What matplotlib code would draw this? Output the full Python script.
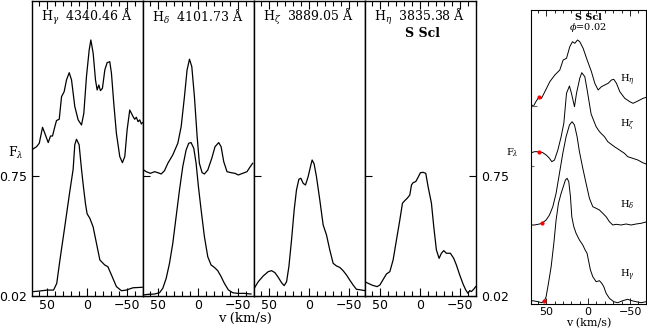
import matplotlib
matplotlib.use("Agg")
import matplotlib.pyplot as plt
from matplotlib.ticker import MultipleLocator

plt.rcParams['mathtext.fontset'] = 'dejavuserif'

# ---- main panels: velocity (km/s) and normalised flux ----
hg_top_v = [68.3, 63.3, 59.9, 55.8, 52.9, 48.7, 45.8, 43.3, 40.4, 38.3, 34.9, 32.0, 28.7, 25.8,
            22.4, 19.5, 15.4, 11.2, 7.0, 4.1, 0.8, -2.6, -4.7, -7.6, -10.5, -12.6, -14.7, -16.7,
            -19.2, -22.2, -25.1, -28.4, -30.5, -33.4, -36.7, -40.9, -44.2, -47.2, -50.1, -53.4,
            -55.5, -57.6, -59.6, -61.7, -63.8, -65.9, -68.0, -69.2]
hg_top_f = [0.912, 0.928, 0.949, 1.046, 1.009, 0.953, 0.993, 0.993, 1.050, 1.087, 1.095, 1.232,
            1.263, 1.334, 1.378, 1.334, 1.172, 1.091, 1.060, 1.131, 1.354, 1.516, 1.577, 1.496,
            1.334, 1.273, 1.303, 1.269, 1.283, 1.395, 1.439, 1.445, 1.374, 1.192, 1.009, 0.868,
            0.831, 0.868, 1.030, 1.151, 1.131, 1.111, 1.095, 1.107, 1.080, 1.091, 1.066, 1.074]

hg_v = [69, 60, 50, 42, 38, 34, 28, 22, 17.5, 15.4, 13.3, 10, 7, 4.5, 2, 0, -3.4, -7.5, -11.7,
        -16, -22, -26, -30.5, -36.7, -43, -49, -57.5, -69]
hg_f = [0.046, 0.05, 0.056, 0.056, 0.097, 0.24, 0.44, 0.645, 0.79, 0.94, 0.973, 0.94, 0.79,
        0.68, 0.58, 0.52, 0.493, 0.441, 0.341, 0.239, 0.209, 0.198, 0.148, 0.077, 0.052, 0.056,
        0.07, 0.073]

hd_top_v = [69.2, 65.0, 59.6, 54.6, 50.4, 46.2, 42.1, 37.9, 31.7, 25.4, 21.2, 17.1, 13.8, 10.8,
            7.9, 4.6, 1.2, -1.6, -5.0, -7.9, -12.1, -17.1, -21.2, -25.8, -28.8, -32.1, -36.2,
            -41.2, -46.2, -50.4, -55.8, -61.2, -65.4, -68.3]
hd_top_f = [0.790, 0.776, 0.766, 0.776, 0.770, 0.762, 0.782, 0.827, 0.878, 0.949, 1.050, 1.232,
            1.395, 1.460, 1.415, 1.232, 0.989, 0.827, 0.770, 0.762, 0.786, 0.857, 0.928, 0.953,
            0.928, 0.837, 0.776, 0.770, 0.766, 0.756, 0.766, 0.776, 0.807, 0.827]

hd_v = [69.2, 62.9, 54.6, 48.3, 44.2, 40.0, 35.8, 31.7, 27.5, 23.3, 19.2, 15.0, 11.7, 8.8, 5.4,
        2.5, -0.4, -3.8, -7.9, -12.1, -16.2, -20.4, -24.6, -28.8, -32.9, -37.9, -43.3, -49.6,
        -57.9, -66.2]
hd_f = [0.026, 0.030, 0.032, 0.040, 0.067, 0.127, 0.219, 0.340, 0.503, 0.665, 0.807, 0.908,
        0.949, 0.953, 0.918, 0.827, 0.685, 0.543, 0.381, 0.259, 0.209, 0.194, 0.174, 0.138,
        0.097, 0.057, 0.040, 0.036, 0.036, 0.032]

hz_v = [68.7, 63.7, 57.4, 51.2, 47.0, 42.8, 38.7, 34.5, 31.2, 28.2, 25.3, 22.0, 18.7, 15.8,
        12.8, 10.3, 7.4, 4.5, 1.2, -2.2, -3.8, -6.3, -9.2, -13.4, -17.6, -21.8, -25.9, -30.1,
        -34.2, -38.4, -42.6, -46.8, -50.9, -55.1, -59.2, -64.7, -69.7]
hz_f = [0.067, 0.107, 0.142, 0.168, 0.174, 0.162, 0.134, 0.101, 0.083, 0.107, 0.199, 0.361,
        0.543, 0.665, 0.730, 0.736, 0.705, 0.695, 0.746, 0.817, 0.847, 0.823, 0.746, 0.604,
        0.452, 0.391, 0.300, 0.219, 0.203, 0.194, 0.174, 0.148, 0.117, 0.087, 0.061, 0.057,
        0.053]

he_v = [69.2, 65.0, 59.6, 53.8, 50.4, 46.2, 42.1, 37.9, 33.8, 29.6, 25.4, 22.1, 19.2, 16.2,
        12.9, 10.8, 8.8, 5.4, 2.5, -0.4, -3.8, -7.1, -10.0, -14.2, -17.1, -20.4, -23.8, -26.7,
        -29.6, -32.9, -37.9, -42.1, -45.4, -49.6, -53.8, -57.1, -60.0, -62.1, -64.2, -67.1,
        -69.6]
he_f = [0.107, 0.097, 0.085, 0.077, 0.087, 0.121, 0.154, 0.168, 0.239, 0.361, 0.482, 0.584,
        0.600, 0.614, 0.634, 0.695, 0.709, 0.716, 0.742, 0.770, 0.772, 0.766, 0.685, 0.584,
        0.442, 0.300, 0.249, 0.280, 0.296, 0.280, 0.280, 0.249, 0.209, 0.148, 0.093, 0.057,
        0.036, 0.053, 0.047, 0.061, 0.077]

panel_titles = [r'H$_\gamma$  4340.46 Å', r'H$_\delta$  4101.73 Å',
                r'H$_\zeta$  3889.05 Å', r'H$_\eta$  3835.38 Å']
panel_curves = [[(hg_top_v, hg_top_f), (hg_v, hg_f)],
                [(hd_top_v, hd_top_f), (hd_v, hd_f)],
                [(hz_v, hz_f)],
                [(he_v, he_f)]]

# ---- right panel: stacked profiles at phase 0.02 ----
r_eta_v = [68.6, 65.4, 62.2, 58.3, 55.5, 51.5, 45.6, 39.6, 33.7, 29.7, 25.7, 21.8, 18.6, 15.8,
           12.6, 9.9, 5.9, 1.1, -4.0, -8.0, -12.0, -15.9, -19.9, -23.9, -27.8, -30.6, -33.8,
           -37.8, -43.7, -49.7, -53.6, -57.6, -61.6, -65.5, -69.5]
r_eta_f = [2.007, 1.973, 2.023, 2.073, 2.057, 2.123, 2.223, 2.29, 2.34, 2.44, 2.457, 2.573,
           2.623, 2.607, 2.64, 2.623, 2.557, 2.44, 2.323, 2.207, 2.14, 2.173, 2.19, 2.207, 2.24,
           2.247, 2.207, 2.123, 2.057, 2.023, 2.007, 2.023, 2.04, 2.057, 2.067]

r_zeta_v = [69.8, 63.8, 57.9, 53.9, 49.9, 46.0, 43.2, 40.0, 36.0, 32.1, 28.9, 25.7, 22.2, 19.8,
            16.2, 13.8, 9.9, 7.5, 3.9, 1.1, -3.6, -9.6, -13.6, -19.5, -23.5, -31.4, -37.4, -43.3,
            -47.3, -53.2, -59.2, -65.1, -69.1]
r_zeta_f = [1.507, 1.523, 1.523, 1.513, 1.49, 1.457, 1.423, 1.44, 1.54, 1.673, 1.807, 2.107,
            2.18, 2.107, 1.973, 2.107, 2.257, 2.313, 2.273, 2.14, 1.9, 1.773, 1.723, 1.673, 1.623,
            1.573, 1.54, 1.507, 1.473, 1.457, 1.44, 1.413, 1.4]

r_delta_v = [69.8, 63.9, 57.9, 55.1, 50.0, 46.0, 42.0, 38.1, 34.1, 30.1, 26.2, 22.2, 19.0, 16.2,
             13.1, 10.3, 6.3, 2.4, -1.6, -5.6, -9.6, -13.5, -17.5, -21.5, -25.4, -29.4, -33.4,
             -39.3, -45.3, -51.2, -57.2, -63.1, -69.1]
r_delta_f = [0.79, 0.79, 0.8, 0.807, 0.84, 0.89, 0.973, 1.107, 1.307, 1.507, 1.673, 1.79, 1.823,
             1.79, 1.673, 1.523, 1.357, 1.207, 1.057, 0.973, 0.957, 0.94, 0.907, 0.873, 0.823,
             0.79, 0.797, 0.79, 0.8, 0.79, 0.8, 0.807, 0.82]

r_gamma_v = [69.8, 65.8, 59.9, 55.1, 52.0, 50.0, 47.2, 44.0, 40.8, 38.1, 35.3, 32.1, 28.9, 27.0,
             25.0, 23.0, 21.0, 19.4, 17.0, 14.3, 10.3, 6.3, 3.5, 1.2, -0.4, -2.8, -5.6, -9.6,
             -13.5, -16.3, -18.7, -21.5, -25.4, -30.6, -35.3, -41.3, -47.2, -52.0, -57.2, -63.1,
             -69.1]
r_gamma_f = [0.023, 0.033, 0.023, 0.013, 0.033, 0.073, 0.207, 0.373, 0.607, 0.84, 1.007, 1.107,
             1.19, 1.24, 1.257, 1.223, 1.073, 0.873, 0.773, 0.707, 0.64, 0.59, 0.54, 0.507, 0.44,
             0.34, 0.273, 0.223, 0.233, 0.207, 0.173, 0.107, 0.057, 0.023, 0.013, 0.033, 0.047,
             0.033, 0.023, 0.013, 0.023]

r_labels = [r'H$_\eta$', r'H$_\zeta$', r'H$_\delta$', r'H$_\gamma$']
r_label_y = [2.24, 1.79, 0.99, 0.29]
red_v = [58.3, 57.9, 55.1, 52.0]
red_f = [2.073, 1.523, 0.807, 0.033]
cont_v = [63.9, 67.8]
cont_f = [1.98, 1.38]

W, H = 647, 331
fig = plt.figure(figsize=(W / 100, H / 100), dpi=100)

serif = 'DejaVu Serif'
pw = 111 / W
for i in range(4):
    ax = fig.add_axes([(32 + 111 * i) / W, 35 / H, pw, 295 / H])
    for v, f in panel_curves[i]:
        ax.plot(v, f, color='black', lw=0.9)
    ax.set_xlim(69, -70)
    ax.set_ylim(0.02, 1.814)
    ax.set_xticks([50, 0, -50])
    ax.set_xticklabels(['50', '0', '\u221250'])
    ax.xaxis.set_minor_locator(MultipleLocator(10))
    ax.tick_params(axis='x', which='major', direction='in', top=True, length=6, width=0.8,
                   labelsize=9, pad=2)
    ax.tick_params(axis='x', which='minor', direction='in', top=True, length=3.5, width=0.8)
    ax.set_yticks([0.02, 0.75])
    ax.tick_params(axis='y', direction='in', length=5, width=0.8, labelsize=9,
                   left=True, right=(i == 3), labelleft=(i == 0), labelright=(i == 3))
    for s in ax.spines.values():
        s.set_linewidth(1.0)
    ax.text(0.49, 0.946, panel_titles[i], transform=ax.transAxes, ha='center', va='center',
            fontsize=9, family=serif)
    if i == 3:
        ax.text(0.52, 0.89, 'S Scl', transform=ax.transAxes, ha='center', va='center',
                fontsize=9, family=serif, fontweight='bold')

fig.text(16 / W, 1 - 153 / H, r'F$_\lambda$', ha='center', va='center', fontsize=9, family=serif)
fig.text(245 / W, 1 - 318 / H, 'v (km/s)', ha='center', va='center', fontsize=9.5, family=serif)

# right panel
ax = fig.add_axes([531 / W, 27 / H, 115 / W, 294 / H])
for v, f in [(r_eta_v, r_eta_f), (r_zeta_v, r_zeta_f), (r_delta_v, r_delta_f),
             (r_gamma_v, r_gamma_f)]:
    ax.plot(v, f, color='black', lw=0.7)
ax.plot(red_v, red_f, ls='none', marker='o', ms=2, color='red')
ax.plot(cont_v, cont_f, ls='none', marker='_', ms=4, mew=0.8, color='0.4')
for lab, y in zip(r_labels, r_label_y):
    ax.text(-47, y, lab, ha='center', va='center', fontsize=7, family=serif)
ax.text(0, 2.87, 'S Scl', ha='center', va='center', fontsize=7, family=serif, fontweight='bold')
ax.text(0, 2.76, r'$\phi$=0.02', ha='center', va='center', fontsize=7, family=serif)
ax.set_xlim(68, -69)
ax.set_ylim(0, 2.94)
ax.set_xticks([50, 0, -50])
ax.set_xticklabels(['50', '0', '\u221250'])
ax.xaxis.set_minor_locator(MultipleLocator(10))
ax.tick_params(axis='x', which='major', direction='in', top=True, length=4, width=0.6,
               labelsize=8, pad=2)
ax.tick_params(axis='x', which='minor', direction='in', top=True, length=2.5, width=0.6)
ax.set_yticks([])
for s in ax.spines.values():
    s.set_linewidth(0.8)
ax.set_xlabel('v (km/s)', fontsize=8, family=serif, labelpad=1)
fig.text(512 / W, 1 - 153 / H, r'F$_\lambda$', ha='center', va='center', fontsize=7, family=serif)

fig.savefig('out.png', dpi=100)
